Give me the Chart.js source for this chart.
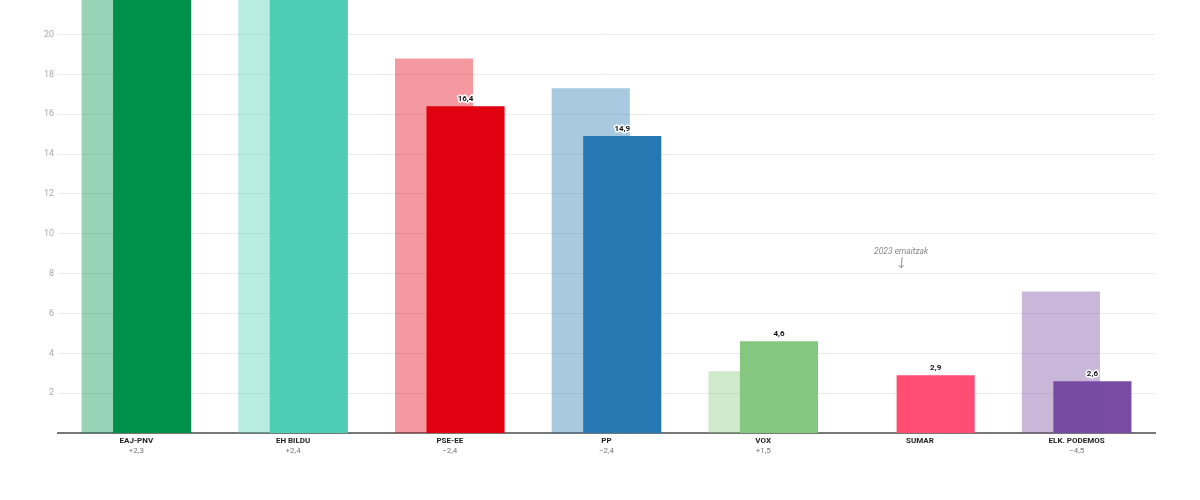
<!DOCTYPE html>
<html lang="eu">
<head>
  <meta charset="UTF-8">
  <title>Inkesta - 2023 emaitzak</title>
  <script src="https://cdn.jsdelivr.net/npm/chart.js@4"></script>
  <style>
    body { margin: 0; background: #fff; font-family: Roboto, sans-serif; }
    .wrap { width: 1200px; height: 500px; position: relative; }
  </style>
</head>
<body>
  <div class="wrap"><canvas id="pollChart"></canvas></div>

  <script>
    // data
    const parties = ['EAJ-PNV', 'EH BILDU', 'PSE-EE', 'PP', 'VOX', 'SUMAR', 'ELK. PODEMOS'];
    const results2023 = [34.6, 29.3, 18.8, 17.3, 3.1, null, 7.1];
    const estimate = [36.9, 31.7, 16.4, 14.9, 4.6, 2.9, 2.6];
    const changes = ['+2,3', '+2,4', '\u22122,4', '\u22122,4', '+1,5', '', '\u22124,5'];
    const yTicks = [2, 4, 6, 8, 10, 12, 14, 16, 18, 20];
    const partyColors = ['#00904a', '#4ecdb4', '#e1000f', '#2678b2', '#86c77f', '#ff4d74', '#794ba3'];

    function fade(hex, a) {
      const n = parseInt(hex.slice(1), 16);
      return `rgba(${n >> 16}, ${(n >> 8) & 255}, ${n & 255}, ${a})`;
    }

    const fmt = v => v.toFixed(1).replace('.', ',');

    // value labels + the "2023 emaitzak" note
    const labelsPlugin = {
      id: 'labelsPlugin',
      afterDatasetsDraw(chart) {
        const { ctx, chartArea, scales } = chart;
        const meta = chart.getDatasetMeta(1);
        ctx.save();
        ctx.font = 'bold 8px Roboto';
        ctx.textAlign = 'center';
        ctx.textBaseline = 'middle';
        ctx.lineJoin = 'round';
        ctx.lineWidth = 3;
        ctx.strokeStyle = '#fff';
        ctx.fillStyle = '#111';
        meta.data.forEach((bar, i) => {
          const y = bar.y - 7;
          if (y < chartArea.top + 4) return;
          ctx.strokeText(fmt(estimate[i]), bar.x, y);
          ctx.fillText(fmt(estimate[i]), bar.x, y);
        });

        // note pointing at where the 2023 bar would be
        const ax = chart.getDatasetMeta(0).data[5].x - 3;
        const ty = scales.y.getPixelForValue(9.1);
        const a0 = scales.y.getPixelForValue(8.83);
        const a1 = scales.y.getPixelForValue(8.28);
        ctx.font = 'italic 8.5px Roboto';
        ctx.fillStyle = '#888';
        ctx.fillText('2023 emaitzak', ax, ty);
        ctx.strokeStyle = '#888';
        ctx.lineWidth = 0.9;
        ctx.beginPath();
        ctx.moveTo(ax + 1, a0);
        ctx.quadraticCurveTo(ax + 0.5, (a0 + a1) / 2, ax, a1);
        ctx.moveTo(ax - 2.5, a1 - 3);
        ctx.lineTo(ax, a1);
        ctx.lineTo(ax + 2.5, a1 - 3);
        ctx.stroke();
        ctx.restore();
      }
    };

    const ctx = document.getElementById('pollChart').getContext('2d');
    new Chart(ctx, {
      type: 'bar',
      data: {
        labels: parties,
        datasets: [
          {
            label: '2023',
            data: results2023,
            backgroundColor: partyColors.map(c => fade(c, 0.4)),
            barPercentage: 2.48,
            categoryPercentage: 0.402
          },
          {
            label: 'Inkesta',
            data: estimate,
            backgroundColor: partyColors,
            barPercentage: 2.48,
            categoryPercentage: 0.402
          }
        ]
      },
      options: {
        responsive: true,
        maintainAspectRatio: false,
        animation: false,
        layout: { padding: { left: 0, right: 45, top: 0, bottom: 0 } },
        plugins: {
          legend: { display: false },
          tooltip: { enabled: false }
        },
        scales: {
          y: {
            min: 0,
            max: 21.73,
            afterBuildTicks(s) { s.ticks = yTicks.map(v => ({ value: v })); },
            afterFit(s) { s.width = 58; s.paddingTop = 0; s.paddingBottom = 0; },
            grid: { color: '#ebebeb', drawTicks: false },
            border: { display: false },
            ticks: {
              color: '#aaa',
              padding: 4,
              font: { family: 'Roboto', size: 9 }
            }
          },
          x: {
            position: 'bottom',
            afterFit(s) { s.height = 13; s.paddingLeft = 0; s.paddingRight = 0; },
            grid: { display: false, drawTicks: false },
            border: { display: true, color: '#777', width: 2 },
            ticks: {
              color: '#222',
              padding: 3,
              maxRotation: 0,
              autoSkip: false,
              font: { family: 'Roboto', size: 8, weight: 'bold' }
            }
          },
          x2: {
            type: 'category',
            position: 'bottom',
            labels: changes,
            offset: true,
            afterFit(s) { s.height = 54; s.paddingLeft = 0; s.paddingRight = 0; },
            grid: { display: false, drawTicks: false },
            border: { display: false },
            ticks: {
              color: '#777',
              padding: 0,
              maxRotation: 0,
              autoSkip: false,
              font: { family: 'Roboto', size: 8 }
            }
          }
        }
      },
      plugins: [labelsPlugin]
    });
  </script>
</body>
</html>
